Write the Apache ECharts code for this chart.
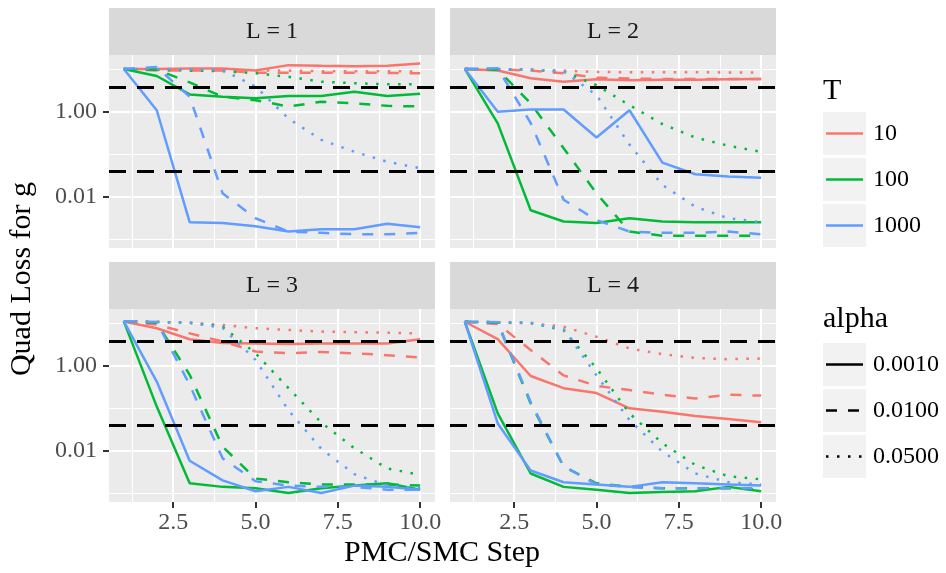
<!DOCTYPE html>
<html><head><meta charset="utf-8">
<script src="https://cdn.jsdelivr.net/npm/echarts@6/dist/echarts.min.js"></script>
<style>html,body{margin:0;padding:0;background:#fff}#c{width:946px;height:573px}</style>
</head><body><div id="c"></div>
<script>
const steps = [1, 2, 3, 4, 5, 6, 7, 8, 9, 10];
const panelLabels = ['L = 1', 'L = 2', 'L = 3', 'L = 4'];
const tLevels = ['10', '100', '1000'];
const alphaLevels = ['0.0010', '0.0100', '0.0500'];
const refLines = [3.9, 0.045];
const xMajorTicks = [2.5, 5, 7.5, 10];
const xMinorTicks = [1.25, 3.75, 6.25, 8.75];
const yMajorTicks = [0.01, 1];
const yMinorTicks = [0.001, 0.1, 10];

// L = 1
const L1_T10_a001 = [10.4, 10.4, 10.6, 10.6, 9.6, 12.8, 12.3, 12.0, 12.3, 14.0];
const L1_T10_a010 = [10.4, 9.5, 9.5, 9.5, 8.5, 8.4, 8.4, 8.4, 8.4, 8.2];
const L1_T10_a050 = [10.4, 9.8, 9.8, 9.8, 9.5, 9.5, 9.2, 9.2, 9.2, 9.0];
const L1_T100_a001 = [10.4, 7.1, 2.6, 2.3, 2.1, 2.4, 2.4, 3.0, 2.4, 2.7];
const L1_T100_a010 = [10.4, 10.0, 5.0, 2.3, 1.9, 1.35, 1.75, 1.6, 1.4, 1.35];
const L1_T100_a050 = [10.4, 10.0, 9.5, 9.2, 8.2, 6.8, 5.2, 4.8, 4.5, 4.5];
const L1_T1000_a001 = [10.4, 1.1, 0.0025, 0.0024, 0.0020, 0.0015, 0.0017, 0.0017, 0.0023, 0.0019];
const L1_T1000_a010 = [10.4, 11.5, 2.3, 0.012, 0.0031, 0.0015, 0.0014, 0.0013, 0.0013, 0.0014];
const L1_T1000_a050 = [10.4, 10.4, 10.2, 9.8, 4.0, 0.7, 0.22, 0.115, 0.067, 0.047];
// L = 2
const L2_T10_a001 = [10.4, 9.6, 6.3, 5.2, 5.9, 5.6, 5.8, 5.8, 5.9, 6.0];
const L2_T10_a010 = [10.4, 10.2, 9.5, 8.2, 6.5, 6.2, 6.0, 6.0, 6.0, 6.0];
const L2_T10_a050 = [10.4, 10.2, 9.8, 9.5, 8.8, 8.7, 8.7, 8.7, 8.6, 8.6];
const L2_T100_a001 = [10.4, 0.54, 0.0048, 0.0026, 0.0024, 0.0031, 0.0026, 0.0025, 0.0025, 0.0025];
const L2_T100_a010 = [10.4, 10.0, 1.6, 0.14, 0.012, 0.0015, 0.0012, 0.0012, 0.0012, 0.0012];
const L2_T100_a050 = [10.4, 10.2, 10.0, 9.0, 4.3, 1.45, 0.52, 0.25, 0.16, 0.115];
const L2_T1000_a001 = [10.4, 1.02, 1.15, 1.15, 0.25, 1.1, 0.064, 0.034, 0.030, 0.028];
const L2_T1000_a010 = [10.4, 10.8, 0.55, 0.0085, 0.0028, 0.0015, 0.0014, 0.0014, 0.0015, 0.0013];
const L2_T1000_a050 = [10.4, 10.4, 10.0, 9.2, 2.5, 0.17, 0.019, 0.0058, 0.0031, 0.0025];
// L = 3
const L3_T10_a001 = [11.3, 7.8, 4.3, 3.5, 3.4, 3.3, 3.4, 3.4, 3.4, 4.3];
const L3_T10_a010 = [11.3, 9.5, 5.9, 3.8, 2.2, 2.0, 2.15, 2.0, 1.8, 1.6];
const L3_T10_a050 = [11.3, 11.0, 10.5, 9.3, 7.8, 7.1, 6.5, 6.3, 6.1, 5.9];
const L3_T100_a001 = [11.3, 0.11, 0.0017, 0.0014, 0.0013, 0.0010, 0.0013, 0.0015, 0.0017, 0.0012];
const L3_T100_a010 = [11.3, 10.5, 0.62, 0.0125, 0.0022, 0.0018, 0.0016, 0.0016, 0.0016, 0.0015];
const L3_T100_a050 = [11.3, 11.0, 10.5, 8.5, 2.0, 0.30, 0.046, 0.0115, 0.0038, 0.0027];
const L3_T1000_a001 = [11.3, 0.43, 0.0058, 0.0020, 0.0011, 0.0014, 0.0010, 0.0015, 0.0014, 0.0012];
const L3_T1000_a010 = [11.3, 11.0, 0.36, 0.0066, 0.0019, 0.0015, 0.0014, 0.0014, 0.0012, 0.0012];
const L3_T1000_a050 = [11.3, 11.0, 10.5, 8.0, 1.4, 0.09, 0.011, 0.0028, 0.0015, 0.0013];
// L = 4
const L4_T10_a001 = [11.1, 4.3, 0.58, 0.30, 0.23, 0.10, 0.083, 0.066, 0.056, 0.047];
const L4_T10_a010 = [11.1, 9.8, 2.4, 0.60, 0.34, 0.27, 0.21, 0.17, 0.21, 0.20];
const L4_T10_a050 = [11.1, 10.6, 10.2, 8.5, 4.9, 2.6, 1.9, 1.55, 1.45, 1.5];
const L4_T100_a001 = [11.1, 0.076, 0.0029, 0.0014, 0.0012, 0.0010, 0.00106, 0.0011, 0.0014, 0.0011];
const L4_T100_a010 = [11.1, 10.5, 0.13, 0.0042, 0.0017, 0.0014, 0.0013, 0.0013, 0.0013, 0.0012];
const L4_T100_a050 = [11.1, 10.8, 10.5, 7.0, 0.88, 0.076, 0.015, 0.0046, 0.0025, 0.0021];
const L4_T1000_a001 = [11.1, 0.044, 0.0034, 0.0018, 0.0016, 0.0014, 0.0018, 0.0017, 0.0016, 0.0015];
const L4_T1000_a010 = [11.1, 10.8, 0.14, 0.0043, 0.0016, 0.0014, 0.0013, 0.0013, 0.0013, 0.0013];
const L4_T1000_a050 = [11.1, 10.8, 10.4, 7.5, 0.60, 0.053, 0.0095, 0.0029, 0.0018, 0.0016];

const panels = [
  [[L1_T10_a001, L1_T10_a010, L1_T10_a050], [L1_T100_a001, L1_T100_a010, L1_T100_a050], [L1_T1000_a001, L1_T1000_a010, L1_T1000_a050]],
  [[L2_T10_a001, L2_T10_a010, L2_T10_a050], [L2_T100_a001, L2_T100_a010, L2_T100_a050], [L2_T1000_a001, L2_T1000_a010, L2_T1000_a050]],
  [[L3_T10_a001, L3_T10_a010, L3_T10_a050], [L3_T100_a001, L3_T100_a010, L3_T100_a050], [L3_T1000_a001, L3_T1000_a010, L3_T1000_a050]],
  [[L4_T10_a001, L4_T10_a010, L4_T10_a050], [L4_T100_a001, L4_T100_a010, L4_T100_a050], [L4_T1000_a001, L4_T1000_a010, L4_T1000_a050]]
];

const colors = ['#F8766D', '#00BA38', '#619CFF'];
const dashTypes = ['solid', [11, 11], [2.5, 8.5]];
const FONT = '"Liberation Serif", "Times New Roman", serif';

const gridPos = [
  {left: 109, top: 55}, {left: 450, top: 55},
  {left: 109, top: 309}, {left: 450, top: 309}
];
const GW = 326, GH = 193;

const grids = [], xAxes = [], yAxes = [], series = [];
gridPos.forEach((g, p) => {
  grids.push({left: g.left, top: g.top, width: GW, height: GH, containLabel: false,
    show: true, backgroundColor: '#EBEBEB', borderWidth: 0});
  const bottom = p >= 2, left = (p % 2 === 0);
  // minor x
  xAxes.push({gridIndex: p, type: 'value', min: 0.55, max: 10.45, position: 'bottom',
    axisLine: {show: false}, axisTick: {show: false, customValues: xMinorTicks},
    axisLabel: {show: false, customValues: xMinorTicks},
    splitLine: {show: true, lineStyle: {color: '#FFFFFF', width: 1}}});
  // major x
  xAxes.push({gridIndex: p, type: 'value', min: 0.55, max: 10.45, position: 'bottom',
    axisLine: {show: false},
    axisTick: {show: bottom, customValues: xMajorTicks, length: 6, lineStyle: {color: '#333333', width: 2}},
    axisLabel: {show: bottom, customValues: xMajorTicks, margin: 9, color: '#4D4D4D',
      fontFamily: FONT, fontSize: 24, formatter: v => Number(v).toFixed(1)},
    splitLine: {show: true, lineStyle: {color: '#FFFFFF', width: 2}}});
  // minor y
  yAxes.push({gridIndex: p, type: 'log', logBase: 10, min: 0.000615, max: 22.2, position: 'left',
    axisLine: {show: false}, axisTick: {show: false, customValues: yMinorTicks},
    axisLabel: {show: false, customValues: yMinorTicks},
    splitLine: {show: true, lineStyle: {color: '#FFFFFF', width: 1}}});
  // major y
  yAxes.push({gridIndex: p, type: 'log', logBase: 10, min: 0.000615, max: 22.2, position: 'left',
    axisLine: {show: false},
    axisTick: {show: left, customValues: yMajorTicks, length: 6, lineStyle: {color: '#333333', width: 2}},
    axisLabel: {show: left, customValues: yMajorTicks, margin: 12, color: '#4D4D4D',
      fontFamily: FONT, fontSize: 24, formatter: v => Number(v).toFixed(2)},
    splitLine: {show: true, lineStyle: {color: '#FFFFFF', width: 2}}});

  panels[p].forEach((byAlpha, t) => {
    byAlpha.forEach((vals, a) => {
      const s = {
        type: 'line', xAxisIndex: p * 2 + 1, yAxisIndex: p * 2 + 1,
        name: 'T=' + tLevels[t] + ' alpha=' + alphaLevels[a],
        data: steps.map((x, i) => [x, vals[i]]),
        symbol: 'none', silent: true,
        lineStyle: {color: colors[t], width: 2.5, type: dashTypes[a]}
      };
      if (t === 2 && a === 2) {
        s.markLine = {silent: true, symbol: 'none', label: {show: false},
          lineStyle: {color: '#000000', width: 3, type: [17, 11]},
          data: refLines.map(v => ({yAxis: v}))};
      }
      series.push(s);
    });
  });
});

const graphics = [];
// strips
gridPos.forEach((g, p) => {
  graphics.push({type: 'rect', shape: {x: g.left, y: g.top - 47, width: GW, height: 47},
    style: {fill: '#D9D9D9'}, silent: true});
  graphics.push({type: 'text', x: g.left + GW / 2, y: g.top - 23.5,
    style: {text: panelLabels[p], fill: '#1A1A1A', font: '24px ' + FONT,
      textAlign: 'center', textVerticalAlign: 'middle'}, silent: true});
});
// axis titles
graphics.push({type: 'text', x: 22, y: 279, rotation: Math.PI / 2,
  style: {text: 'Quad Loss for g', fill: '#000000', font: '30px ' + FONT,
    textAlign: 'center', textVerticalAlign: 'middle'}});
graphics.push({type: 'text', x: 442, y: 553,
  style: {text: 'PMC/SMC Step', fill: '#000000', font: '30px ' + FONT,
    textAlign: 'center', textVerticalAlign: 'middle'}});
// legend T
graphics.push({type: 'text', x: 823, y: 91,
  style: {text: 'T', fill: '#000000', font: '30px ' + FONT, textAlign: 'left', textVerticalAlign: 'middle'}});
const tRows = [112, 158, 204];
tLevels.forEach((lab, i) => {
  const y0 = tRows[i];
  graphics.push({type: 'rect', shape: {x: 823, y: y0, width: 43, height: 43}, style: {fill: '#F2F2F2'}});
  graphics.push({type: 'line', shape: {x1: 826, y1: y0 + 21.5, x2: 863, y2: y0 + 21.5},
    style: {stroke: colors[i], lineWidth: 2.6}});
  graphics.push({type: 'text', x: 873, y: y0 + 22,
    style: {text: lab, fill: '#000000', font: '24px ' + FONT, textAlign: 'left', textVerticalAlign: 'middle'}});
});
// legend alpha
graphics.push({type: 'text', x: 823, y: 319,
  style: {text: 'alpha', fill: '#000000', font: '30px ' + FONT, textAlign: 'left', textVerticalAlign: 'middle'}});
const aRows = [343, 389, 435];
const legendDash = [null, [11, 11], [2.5, 8.5]];
alphaLevels.forEach((lab, i) => {
  const y0 = aRows[i];
  graphics.push({type: 'rect', shape: {x: 823, y: y0, width: 43, height: 43}, style: {fill: '#F2F2F2'}});
  graphics.push({type: 'line', shape: {x1: 826, y1: y0 + 21.5, x2: 863, y2: y0 + 21.5},
    style: {stroke: '#000000', lineWidth: 2.6, lineDash: legendDash[i]}});
  graphics.push({type: 'text', x: 873, y: y0 + 22,
    style: {text: lab, fill: '#000000', font: '24px ' + FONT, textAlign: 'left', textVerticalAlign: 'middle'}});
});

const chart = echarts.init(document.getElementById('c'), null, {renderer: 'canvas'});
chart.setOption({
  backgroundColor: '#FFFFFF',
  animation: false,
  grid: grids,
  xAxis: xAxes,
  yAxis: yAxes,
  series: series,
  graphic: graphics
});
</script>
</body></html>
